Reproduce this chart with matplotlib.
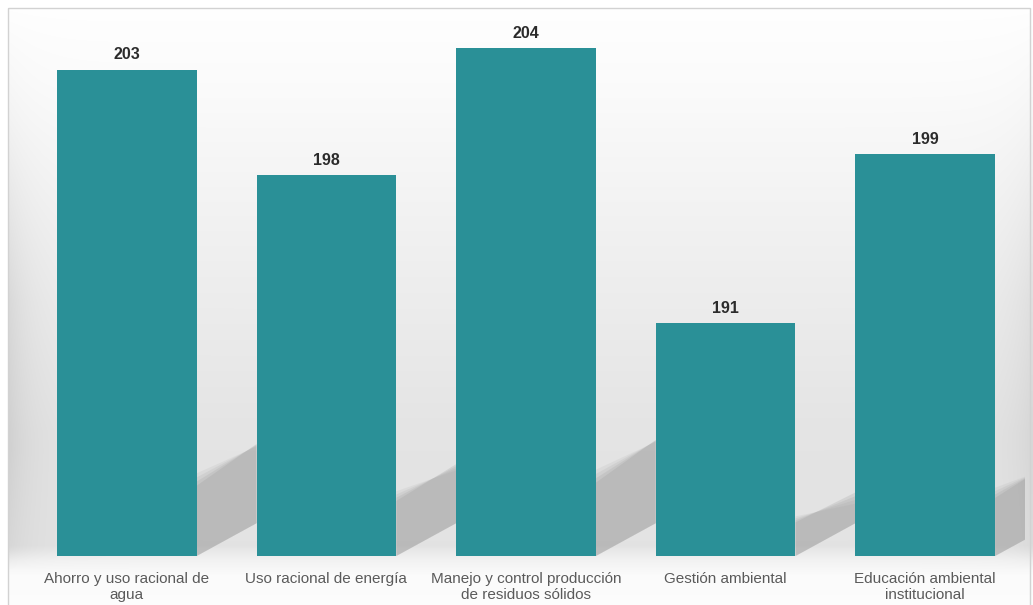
import numpy as np
import matplotlib
matplotlib.use("Agg")
import matplotlib.pyplot as plt
from matplotlib.patches import Polygon, Rectangle

categories = ["Ahorro y uso racional de\nagua", "Uso racional de energía",
              "Manejo y control producción\nde residuos sólidos", "Gestión ambiental",
              "Educación ambiental\ninstitucional"]
values = [203, 198, 204, 191, 199]

W, H = 1033, 605
fig = plt.figure(figsize=(W / 100, H / 100), dpi=100)
fig.patch.set_facecolor("white")

# background gradient
bg = fig.add_axes([0, 0, 1, 1], zorder=0)
bg.set_axis_off()
yy, xx = np.mgrid[0:H, 0:W].astype(float)
prof = np.interp(yy[:, 0], [0, 80, 250, 430, 545, 560, 575, 605],
                 [1.0, 0.985, 0.94, 0.895, 0.89, 0.95, 0.985, 0.99])
v = np.ones((H, W)) * prof[:, None]
vert = np.interp(yy[:, 0], [0, 120, 300, 450, 550, 570], [0.0, 0.3, 1.0, 1.0, 0.6, 0.0])
v -= 0.08 * np.exp(-np.clip(xx - 8, 0, None) / 25.0) * vert[:, None]
v -= 0.05 * np.exp(-np.clip(1030 - xx, 0, None) / 25.0) * vert[:, None]
v[:, :8] = 1.0
v[:8, :] = 1.0
v = np.clip(v, 0, 1)
img = np.dstack([v, v, v])
bg.imshow(img, extent=[0, W, H, 0], aspect="auto", interpolation="bilinear")
bg.set_xlim(0, W)
bg.set_ylim(H, 0)
bg.add_patch(Rectangle((8, 8), 1022, 620, fill=False, edgecolor="#d2d2d2", lw=1.0))

base = 180
top = 206
px_per_unit = 21.15
ax = fig.add_axes([27 / W, 49 / H, 998 / W, (top - base) * px_per_unit / H], zorder=1)
ax.patch.set_alpha(0)
ax.set_xlim(-0.5, 4.5)
ax.set_ylim(base, top)

x = np.arange(len(values))
bw = 0.70
# shadows
for i, val in enumerate(values):
    h = val - base
    xr = i + bw / 2
    for k, a in enumerate([0.10, 0.13, 0.16, 0.20]):
        s = 1.0 - 0.05 * k
        pts = [(xr, base), (xr + 0.30, base + 1.55),
               (xr + 0.30, base + 0.225 * h * s + 0.3 * k),
               (xr, base + 0.17 * h * s)]
        ax.add_patch(Polygon(pts, closed=True, facecolor="#909090", edgecolor="none",
                             alpha=a, zorder=1))

ax.bar(x, [vv - base for vv in values], bottom=base, width=bw,
       color="#2a9097", edgecolor="none", zorder=3)
for i, val in enumerate(values):
    ax.annotate(str(val), (x[i], val), xytext=(0, 5.5), textcoords="offset points",
                ha="center", va="bottom", fontsize=11.5, fontweight="bold",
                color="#2b2b2b", family="Liberation Sans", zorder=4)

ax.set_xticks(x)
ax.set_xticklabels(categories, fontsize=11, color="#5a5a5a", family="Liberation Sans",
                   linespacing=1.15)
ax.tick_params(axis="x", length=0, pad=11.5)
ax.set_yticks([])
for sp in ax.spines.values():
    sp.set_visible(False)

fig.savefig("out.png", dpi=100)
